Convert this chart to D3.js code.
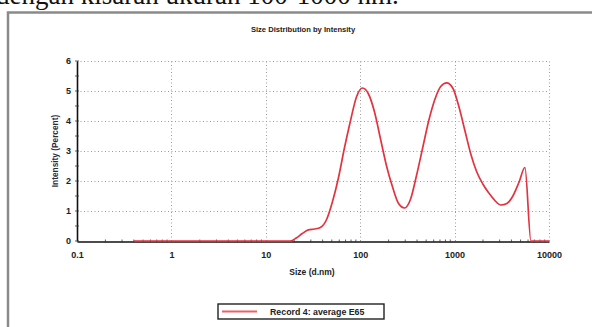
<!DOCTYPE html>
<html>
<head>
<meta charset="utf-8">
<script src="https://cdn.jsdelivr.net/npm/d3@7"></script>
<style>
  body { margin: 0; background: #fff; }
  svg { display: block; }
</style>
</head>
<body>
<div id="chart"></div>
<script>
// Size bins (d.nm) and intensity (%)
const sizes = [0.4, 0.5365, 0.7195, 0.9649, 1.294, 1.736, 2.328, 3.122, 4.187, 5.615, 7.531, 10.1,
  13.54, 18.17, 21.04, 24.36, 28.21, 32.67, 37.84, 43.82, 50.75, 58.77, 68.06, 78.82, 91.28,
  105.7, 122.4, 141.8, 164.2, 190.1, 220.2, 255.0, 295.3, 342.0, 396.1, 458.7, 531.2, 615.1,
  712.4, 825.0, 955.4, 1106, 1281, 1484, 1718, 1990, 2305, 2669, 3091, 3580, 4145, 4801,
  5560, 6439, 7456, 8635, 10000];
const intensity = [0, 0, 0, 0, 0, 0, 0, 0, 0, 0, 0, 0,
  0, 0, 0.1, 0.25, 0.37, 0.4, 0.45, 0.7, 1.3, 2.1, 3.1, 4.0, 4.8,
  5.1, 4.9, 4.3, 3.4, 2.5, 1.8, 1.25, 1.1, 1.4, 2.2, 3.1, 4.0, 4.7,
  5.15, 5.27, 5.1, 4.5, 3.7, 2.9, 2.3, 1.9, 1.6, 1.35, 1.2, 1.25, 1.5, 1.95,
  2.45, 0, 0, 0, 0];
const xTicks = [0.1, 1, 10, 100, 1000, 10000];
const xTickLabels = ['0.1', '1', '10', '100', '1000', '10000'];
const yTicks = [0, 1, 2, 3, 4, 5, 6];

const W = 592, H = 327;
const svg = d3.select('#chart').append('svg').attr('width', W).attr('height', H);

// cut-off text line from the surrounding document
svg.append('text')
  .attr('x', -4).attr('y', 4)
  .style('font-family', '"Liberation Serif", serif')
  .style('font-size', '27px')
  .style('fill', '#111')
  .text('dengan kisaran ukuran 100-1000 nm.');

// outer frame of the screenshot
svg.append('path')
  .attr('d', `M8,${H} L8,12.5 L${W},12.5`)
  .style('fill', 'none').style('stroke', '#8a8a8a').style('stroke-width', 2.5);

const x = d3.scaleLog().domain([0.1, 10000]).range([77, 549]);
const y = d3.scaleLinear().domain([0, 6]).range([241, 61]);

const font = 'Arial, "Liberation Sans", sans-serif';

// grid
const grid = svg.append('g').style('stroke', '#9a9a9a').style('stroke-width', 1)
  .style('stroke-dasharray', '1,2.5');
yTicks.filter(d => d > 0).forEach(v => {
  grid.append('line').attr('x1', x(0.1)).attr('x2', x(10000))
    .attr('y1', y(v) + 0.5).attr('y2', y(v) + 0.5);
});
xTicks.filter(d => d > 0.1).forEach(v => {
  grid.append('line').attr('x1', Math.round(x(v)) + 0.5).attr('x2', Math.round(x(v)) + 0.5)
    .attr('y1', y(0)).attr('y2', y(6));
});

// axes
const xAxis = d3.axisBottom(x).tickValues(xTicks).tickFormat((d, i) => xTickLabels[i]).tickSize(0).tickPadding(10);
const gx = svg.append('g').attr('transform', `translate(0,${y(0) + 0.5})`).call(xAxis);
gx.select('.domain').style('stroke', '#111').style('stroke-width', 1.6);
gx.selectAll('text').style('font-family', font).style('font-size', '9px').style('font-weight', 'bold').style('fill', '#222');

// minor x ticks
const minor = [];
[0.1, 1, 10, 100, 1000].forEach(dec => { for (let k = 2; k <= 9; k++) minor.push(dec * k); });
svg.append('g').selectAll('line').data(minor).enter().append('line')
  .attr('x1', d => x(d)).attr('x2', d => x(d))
  .attr('y1', y(0) - 1.5).attr('y2', y(0) + 1.5)
  .style('stroke', '#333').style('stroke-width', 0.8);

const yAxis = d3.axisLeft(y).tickValues(yTicks).tickFormat(d3.format('d')).tickSize(0).tickPadding(6);
const gy = svg.append('g').attr('transform', `translate(${x(0.1)},0)`).call(yAxis);
gy.select('.domain').style('stroke', '#111').style('stroke-width', 1.6);
gy.selectAll('text').style('font-family', font).style('font-size', '9px').style('font-weight', 'bold').style('fill', '#222');

// y ticks at integer and half units
const yMinor = d3.range(0, 6.01, 0.5);
svg.append('g').selectAll('line').data(yMinor).enter().append('line')
  .attr('x1', x(0.1) - 2).attr('x2', x(0.1) + 2)
  .attr('y1', d => y(d)).attr('y2', d => y(d))
  .style('stroke', '#333').style('stroke-width', 0.8);

// titles
svg.append('text').attr('x', 303).attr('y', 32).attr('text-anchor', 'middle')
  .style('font-family', font).style('font-size', '7.6px').style('font-weight', 'bold').style('fill', '#222')
  .text('Size Distribution by Intensity');
svg.append('text').attr('x', 312).attr('y', 275).attr('text-anchor', 'middle')
  .style('font-family', font).style('font-size', '8.5px').style('font-weight', 'bold').style('fill', '#222')
  .text('Size (d.nm)');
svg.append('text').attr('transform', 'translate(58,151) rotate(-90)').attr('text-anchor', 'middle')
  .style('font-family', font).style('font-size', '8.3px').style('font-weight', 'bold').style('fill', '#1f2a44')
  .text('Intensity (Percent)');

// curve
const data = sizes.map((s, i) => ({ s, v: intensity[i] }));
const line = d3.line().x(d => x(d.s)).y(d => y(d.v)).curve(d3.curveMonotoneX);
svg.append('path').datum(data).attr('d', line)
  .style('fill', 'none').style('stroke', '#e23440').style('stroke-width', 1.7);

// legend
const lg = svg.append('g').attr('transform', 'translate(218,304)');
lg.append('rect').attr('width', 166).attr('height', 15)
  .style('fill', '#fff').style('stroke', '#222').style('stroke-width', 1.4);
lg.append('line').attr('x1', 4).attr('x2', 39).attr('y1', 7.5).attr('y2', 7.5)
  .style('stroke', '#e8606a').style('stroke-width', 1.8);
lg.append('text').attr('x', 52).attr('y', 10.5)
  .style('font-family', font).style('font-size', '8.8px').style('font-weight', 'bold').style('fill', '#222')
  .text('Record 4: average E65');
</script>
</body>
</html>
